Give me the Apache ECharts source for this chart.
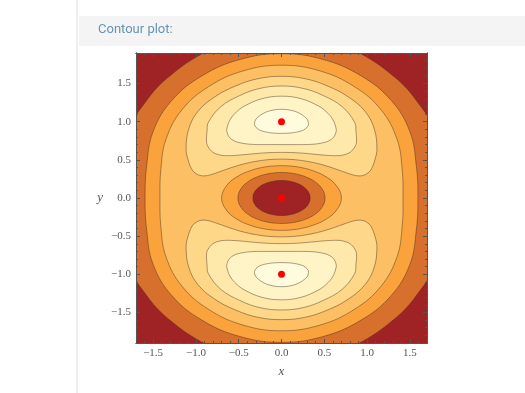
<!DOCTYPE html>
<html><head><meta charset="utf-8">
<script src="https://cdn.jsdelivr.net/npm/echarts@6/dist/echarts.min.js"></script>
<style>html,body{margin:0;padding:0;background:#fff;}#c{width:525px;height:393px;}</style>
</head><body><div id="c"></div>
<script>
// ---- axes ----
const xRange = [-1.7, 1.7];
const yRange = [-1.9, 1.9];
const xTickLabels = [-1.5, -1, -0.5, 0, 0.5, 1, 1.5];
const yTickLabels = [-1.5, -1, -0.5, 0, 0.5, 1, 1.5];
const xMinorTicks = [-1.6,-1.4,-1.3,-1.2,-1.1,-0.9,-0.8,-0.7,-0.6,-0.4,-0.3,-0.2,-0.1,0.1,0.2,0.3,0.4,0.6,0.7,0.8,0.9,1.1,1.2,1.3,1.4,1.6];
const yMinorTicks = [-1.8,-1.7,-1.6,-1.4,-1.3,-1.2,-1.1,-0.9,-0.8,-0.7,-0.6,-0.4,-0.3,-0.2,-0.1,0.1,0.2,0.3,0.4,0.6,0.7,0.8,0.9,1.1,1.2,1.3,1.4,1.6,1.7,1.8];

// ---- critical points (red dots) ----
const criticalPoints = [[0, 1], [0, 0], [0, -1]];

// ---- contour lines (x, y in data units) ----
const outer1 = [[1.891,0],[1.849,0.495],[1.83,0.76],[1.74,1.01],[1.60,1.24],[1.45,1.45],[1.26,1.64],[1.05,1.81],[0.82,1.945],[0.546,2.039],[0,2.121],
 [-0.546,2.039],[-0.82,1.945],[-1.05,1.81],[-1.26,1.64],[-1.45,1.45],[-1.60,1.24],[-1.74,1.01],[-1.83,0.76],[-1.849,0.495],[-1.891,0],
 [-1.849,-0.495],[-1.83,-0.76],[-1.74,-1.01],[-1.60,-1.24],[-1.45,-1.45],[-1.26,-1.64],[-1.05,-1.81],[-0.82,-1.945],[-0.546,-2.039],[0,-2.121],
 [0.546,-2.039],[0.82,-1.945],[1.05,-1.81],[1.26,-1.64],[1.45,-1.45],[1.60,-1.24],[1.74,-1.01],[1.83,-0.76],[1.849,-0.495]];
const outer2 = [[1.594,0],[1.575,0.422],[1.50,0.87],[1.28,1.28],[0.93,1.60],[0.486,1.815],[0,1.891],
 [-0.486,1.815],[-0.93,1.60],[-1.28,1.28],[-1.50,0.87],[-1.575,0.422],[-1.594,0],
 [-1.575,-0.422],[-1.50,-0.87],[-1.28,-1.28],[-0.93,-1.60],[-0.486,-1.815],[0,-1.891],
 [0.486,-1.815],[0.93,-1.60],[1.28,-1.28],[1.50,-0.87],[1.575,-0.422]];
const outer3 = [[1.42,0],[1.41,0.37],[1.35,0.77],[1.16,1.16],[0.85,1.46],[0.45,1.665],[0,1.74],
 [-0.45,1.665],[-0.85,1.46],[-1.16,1.16],[-1.35,0.77],[-1.41,0.37],[-1.42,0],
 [-1.41,-0.37],[-1.35,-0.77],[-1.16,-1.16],[-0.85,-1.46],[-0.45,-1.665],[0,-1.74],
 [0.45,-1.665],[0.85,-1.46],[1.16,-1.16],[1.35,-0.77],[1.41,-0.37]];
const center3 = [[0.700,0],[0.636,0.170],[0.502,0.290],[0.360,0.360],[0.230,0.399],[0.112,0.418],[0,0.424],
 [-0.112,0.418],[-0.230,0.399],[-0.360,0.360],[-0.502,0.290],[-0.636,0.170],[-0.700,0],
 [-0.636,-0.170],[-0.502,-0.290],[-0.360,-0.360],[-0.230,-0.399],[-0.112,-0.418],[0,-0.424],
 [0.112,-0.418],[0.230,-0.399],[0.360,-0.360],[0.502,-0.290],[0.636,-0.170]];
const center2 = [[0.509,0],[0.471,0.126],[0.382,0.221],[0.279,0.279],[0.180,0.312],[0.088,0.329],[0,0.334],
 [-0.088,0.329],[-0.180,0.312],[-0.279,0.279],[-0.382,0.221],[-0.471,0.126],[-0.509,0],
 [-0.471,-0.126],[-0.382,-0.221],[-0.279,-0.279],[-0.180,-0.312],[-0.088,-0.329],[0,-0.334],
 [0.088,-0.329],[0.180,-0.312],[0.279,-0.279],[0.382,-0.221],[0.471,-0.126]];
const center1 = [[0.334,0],[0.312,0.084],[0.256,0.148],[0.189,0.189],[0.123,0.213],[0.061,0.226],[0,0.230],
 [-0.061,0.226],[-0.123,0.213],[-0.189,0.189],[-0.256,0.148],[-0.312,0.084],[-0.334,0],
 [-0.312,-0.084],[-0.256,-0.148],[-0.189,-0.189],[-0.123,-0.213],[-0.061,-0.226],[0,-0.230],
 [0.061,-0.226],[0.123,-0.213],[0.189,-0.189],[0.256,-0.148],[0.312,-0.084]];
const upper4 = [[0.955,0.296],[1.010,0.328],[1.051,0.382],[1.094,0.510],[1.115,0.645],[1.085,0.900],[0.980,1.130],[0.780,1.325],[0.535,1.469],[0.276,1.563],[0,1.594],
 [-0.276,1.563],[-0.535,1.469],[-0.780,1.325],[-0.980,1.130],[-1.085,0.900],[-1.115,0.645],[-1.094,0.510],[-1.051,0.382],[-1.010,0.328],[-0.955,0.296],
 [-0.894,0.290],[-0.833,0.303],[-0.731,0.341],[-0.648,0.374],[-0.508,0.426],[-0.387,0.461],[-0.279,0.484],[-0.182,0.499],[-0.089,0.507],[0,0.509],
 [0.089,0.507],[0.182,0.499],[0.279,0.484],[0.387,0.461],[0.508,0.426],[0.648,0.374],[0.731,0.341],[0.833,0.303],[0.894,0.290]];
const lower4 = [[0.955,-0.296],[1.010,-0.328],[1.051,-0.382],[1.094,-0.510],[1.115,-0.645],[1.085,-0.900],[0.980,-1.130],[0.780,-1.325],[0.535,-1.469],[0.276,-1.563],[0,-1.594],
 [-0.276,-1.563],[-0.535,-1.469],[-0.780,-1.325],[-0.980,-1.130],[-1.085,-0.900],[-1.115,-0.645],[-1.094,-0.510],[-1.051,-0.382],[-1.010,-0.328],[-0.955,-0.296],
 [-0.894,-0.290],[-0.833,-0.303],[-0.731,-0.341],[-0.648,-0.374],[-0.508,-0.426],[-0.387,-0.461],[-0.279,-0.484],[-0.182,-0.499],[-0.089,-0.507],[0,-0.509],
 [0.089,-0.507],[0.182,-0.499],[0.279,-0.484],[0.387,-0.461],[0.508,-0.426],[0.648,-0.374],[0.731,-0.341],[0.833,-0.303],[0.894,-0.290]];
const upper5 = [[0.801,0.599],[0.856,0.669],[0.876,0.735],[0.870,0.870],[0.855,0.990],[0.710,1.195],[0.488,1.342],[0.253,1.436],[0,1.467],
 [-0.253,1.436],[-0.488,1.342],[-0.710,1.195],[-0.855,0.990],[-0.870,0.870],[-0.876,0.735],[-0.856,0.669],[-0.801,0.599],
 [-0.722,0.564],[-0.662,0.555],[-0.557,0.557],[-0.473,0.564],[-0.334,0.579],[-0.215,0.590],[-0.105,0.596],[0,0.598],
 [0.105,0.596],[0.215,0.590],[0.334,0.579],[0.473,0.564],[0.557,0.557],[0.662,0.555],[0.722,0.564]];
const lower5 = [[0.801,-0.599],[0.856,-0.669],[0.876,-0.735],[0.870,-0.870],[0.855,-0.990],[0.710,-1.195],[0.488,-1.342],[0.253,-1.436],[0,-1.467],
 [-0.253,-1.436],[-0.488,-1.342],[-0.710,-1.195],[-0.855,-0.990],[-0.870,-0.870],[-0.876,-0.735],[-0.856,-0.669],[-0.801,-0.599],
 [-0.722,-0.564],[-0.662,-0.555],[-0.557,-0.557],[-0.473,-0.564],[-0.334,-0.579],[-0.215,-0.590],[-0.105,-0.596],[0,-0.598],
 [0.105,-0.596],[0.215,-0.590],[0.334,-0.579],[0.473,-0.564],[0.557,-0.557],[0.662,-0.555],[0.722,-0.564]];
const upper6 = [[0.607,0.794],[0.636,0.860],[0.638,0.911],[0.597,1.033],[0.526,1.127],[0.438,1.202],[0.229,1.301],[0,1.334],
 [-0.229,1.301],[-0.438,1.202],[-0.526,1.127],[-0.597,1.033],[-0.638,0.911],[-0.636,0.860],[-0.607,0.794],
 [-0.555,0.750],[-0.512,0.731],[-0.409,0.709],[-0.327,0.702],[-0.255,0.700],[-0.123,0.700],[0,0.700],
 [0.123,0.700],[0.255,0.700],[0.327,0.702],[0.409,0.709],[0.512,0.731],[0.555,0.750]];
const lower6 = [[0.607,-0.794],[0.636,-0.860],[0.638,-0.911],[0.597,-1.033],[0.526,-1.127],[0.438,-1.202],[0.229,-1.301],[0,-1.334],
 [-0.229,-1.301],[-0.438,-1.202],[-0.526,-1.127],[-0.597,-1.033],[-0.638,-0.911],[-0.636,-0.860],[-0.607,-0.794],
 [-0.555,-0.750],[-0.512,-0.731],[-0.409,-0.709],[-0.327,-0.702],[-0.255,-0.700],[-0.123,-0.700],[0,-0.700],
 [0.123,-0.700],[0.255,-0.700],[0.327,-0.702],[0.409,-0.709],[0.512,-0.731],[0.555,-0.750]];
const upper7 = [[0.312,0.950],[0.309,1.010],[0.282,1.053],[0.197,1.117],[0.101,1.151],[0,1.162],
 [-0.101,1.151],[-0.197,1.117],[-0.282,1.053],[-0.309,1.010],[-0.312,0.950],
 [-0.276,0.904],[-0.236,0.881],[-0.151,0.858],[-0.074,0.849],[0,0.847],
 [0.074,0.849],[0.151,0.858],[0.236,0.881],[0.276,0.904]];
const lower7 = [[0.312,-0.950],[0.309,-1.010],[0.282,-1.053],[0.197,-1.117],[0.101,-1.151],[0,-1.162],
 [-0.101,-1.151],[-0.197,-1.117],[-0.282,-1.053],[-0.309,-1.010],[-0.312,-0.950],
 [-0.276,-0.904],[-0.236,-0.881],[-0.151,-0.858],[-0.074,-0.849],[0,-0.847],
 [0.074,-0.849],[0.151,-0.858],[0.236,-0.881],[0.276,-0.904]];

// ---- band colours (darkest to palest) ----
const bandColors = ['#9f2325', '#d8702d', '#faa33c', '#fdbf63', '#fed789', '#ffe9aa', '#fff4c6', '#fffbdd'];
const lineColor = 'rgba(60,40,25,0.55)';

const frameRect = [[xRange[0], yRange[0]], [xRange[1], yRange[0]], [xRange[1], yRange[1]], [xRange[0], yRange[1]]];
const fills = [
  { pts: frameRect, color: bandColors[0], line: false, smooth: 0 },
  { pts: outer1, color: bandColors[1], line: true, smooth: 0.4 },
  { pts: outer2, color: bandColors[2], line: true, smooth: 0.4 },
  { pts: outer3, color: bandColors[3], line: true, smooth: 0.4 },
  { pts: center3, color: bandColors[2], line: true, smooth: 0.4 },
  { pts: center2, color: bandColors[1], line: true, smooth: 0.4 },
  { pts: center1, color: bandColors[0], line: true, smooth: 0.4 },
  { pts: upper4, color: bandColors[4], line: true, smooth: 0.4 },
  { pts: lower4, color: bandColors[4], line: true, smooth: 0.4 },
  { pts: upper5, color: bandColors[5], line: true, smooth: 0.4 },
  { pts: lower5, color: bandColors[5], line: true, smooth: 0.4 },
  { pts: upper6, color: bandColors[6], line: true, smooth: 0.4 },
  { pts: lower6, color: bandColors[6], line: true, smooth: 0.4 },
  { pts: upper7, color: bandColors[7], line: true, smooth: 0.4 },
  { pts: lower7, color: bandColors[7], line: true, smooth: 0.4 }
];

const frameColor = '#555';
const labelFont = { fontFamily: 'Liberation Serif', fontSize: 11, color: '#555' };
const fmt = v => (v < 0 ? '\u2212' : '') + Math.abs(v).toFixed(1);

function axisX(pos, values, len, labels, extra) {
  return Object.assign({
    type: 'value', min: xRange[0], max: xRange[1], position: pos, z: 10,
    axisLine: { show: true, onZero: false, lineStyle: { color: frameColor, width: 1 } },
    axisTick: { show: true, inside: true, length: len, customValues: values, lineStyle: { color: frameColor, width: 1 } },
    axisLabel: labels ? Object.assign({ show: true, customValues: values, formatter: fmt, margin: 5 }, labelFont) : { show: false },
    splitLine: { show: false }
  }, extra || {});
}
function axisY(pos, values, len, labels, extra) {
  return Object.assign({
    type: 'value', min: yRange[0], max: yRange[1], position: pos, z: 10,
    axisLine: { show: true, onZero: false, lineStyle: { color: frameColor, width: 1 } },
    axisTick: { show: true, inside: true, length: len, customValues: values, lineStyle: { color: frameColor, width: 1 } },
    axisLabel: labels ? Object.assign({ show: true, customValues: values, formatter: fmt, margin: 5 }, labelFont) : { show: false },
    splitLine: { show: false }
  }, extra || {});
}

const chart = echarts.init(document.getElementById('c'), null, { renderer: 'canvas' });
chart.setOption({
  animation: false,
  backgroundColor: '#ffffff',
  grid: { left: 136, top: 53, width: 291, height: 290, containLabel: false },
  graphic: [
    { type: 'rect', left: 76, top: 0, shape: { width: 2, height: 393 }, style: { fill: '#efefef' }, z: -1 },
    { type: 'rect', left: 79, top: 16, shape: { width: 446, height: 30 }, style: { fill: '#f4f4f4' }, z: -1 },
    { type: 'text', left: 98, top: 23, style: { text: 'Contour plot:', fill: '#6595af', font: '13px Roboto' }, z: 1 }
  ],
  xAxis: [
    axisX('bottom', xTickLabels, 4, true, { name: 'x', nameLocation: 'middle', nameGap: 22,
      nameTextStyle: { fontFamily: 'Liberation Serif', fontStyle: 'italic', fontSize: 13, color: '#555' } }),
    axisX('bottom', xMinorTicks, 2, false),
    axisX('top', xTickLabels, 4, false),
    axisX('top', xMinorTicks, 2, false)
  ],
  yAxis: [
    axisY('left', yTickLabels, 4, true, { name: 'y', nameLocation: 'middle', nameGap: 33, nameRotate: 0,
      nameTextStyle: { fontFamily: 'Liberation Serif', fontStyle: 'italic', fontSize: 13, color: '#555' } }),
    axisY('left', yMinorTicks, 2, false),
    axisY('right', yTickLabels, 4, false),
    axisY('right', yMinorTicks, 2, false)
  ],
  series: [
    {
      type: 'custom', xAxisIndex: 0, yAxisIndex: 0, clip: true, silent: true, z: 2,
      data: fills.map(() => [0, 0]),
      renderItem: function (params, api) {
        const f = fills[params.dataIndex];
        const pts = f.pts.map(p => api.coord(p));
        return {
          type: 'polygon',
          shape: { points: pts, smooth: f.smooth },
          style: { fill: f.color, stroke: f.line ? lineColor : null, lineWidth: 0.8 }
        };
      }
    },
    {
      type: 'scatter', xAxisIndex: 0, yAxisIndex: 0, z: 5, silent: true,
      symbol: 'circle', symbolSize: 7,
      itemStyle: { color: '#ff0000', opacity: 1 },
      data: criticalPoints
    }
  ]
});
</script>
</body></html>
